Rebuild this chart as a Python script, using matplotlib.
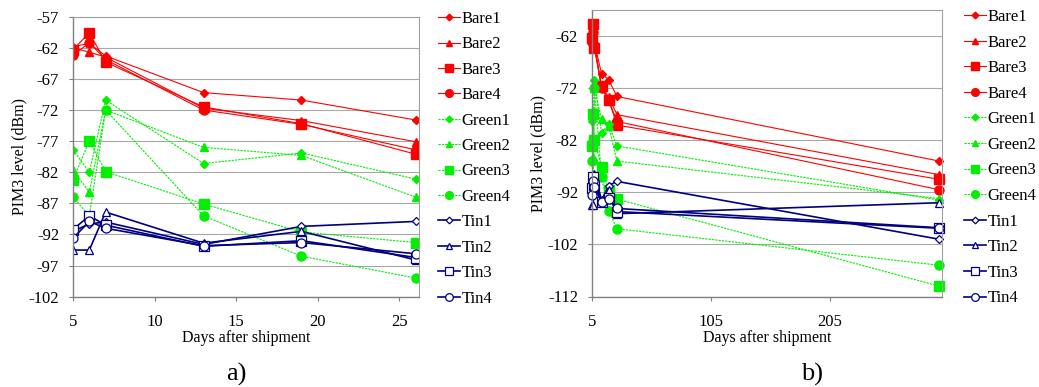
import matplotlib
matplotlib.use("Agg")
import matplotlib.pyplot as plt
from matplotlib.lines import Line2D

plt.rcParams['font.family'] = ['Liberation Serif', 'DejaVu Serif']
plt.rcParams['axes.unicode_minus'] = False

days = [5, 6, 7, 13, 19, 26, 297]

bare1 = [-61.8, -61.3, -63.3, -69.2, -70.4, -73.6, -86.0]
bare2 = [-62.0, -62.7, -63.5, -71.7, -73.7, -77.1, -88.6]
bare3 = [-62.3, -59.6, -64.3, -71.5, -74.2, -79.1, -89.5]
bare4 = [-63.2, -61.2, -63.9, -72.0, -74.3, -78.4, -91.5]
green1 = [-78.4, -82.0, -70.4, -80.6, -78.9, -83.1, -93.5]
green2 = [-81.6, -85.2, -72.0, -78.0, -79.3, -86.0, -93.2]
green3 = [-83.2, -77.0, -81.9, -87.1, -91.6, -93.3, -110.0]
green4 = [-86.0, -89.0, -72.0, -89.0, -95.5, -99.0, -106.0]
tin1 = [-91.5, -90.3, -90.0, -93.6, -90.7, -89.9, -101.0]
tin2 = [-94.5, -94.5, -88.4, -93.4, -91.5, -96.1, -94.0]
tin3 = [-91.2, -89.0, -90.5, -93.9, -93.0, -95.7, -98.9]
tin4 = [-92.6, -89.9, -91.0, -93.8, -93.3, -95.1, -98.8]

labels = ["Bare1", "Bare2", "Bare3", "Bare4", "Green1", "Green2", "Green3", "Green4",
          "Tin1", "Tin2", "Tin3", "Tin4"]
series = [bare1, bare2, bare3, bare4, green1, green2, green3, green4, tin1, tin2, tin3, tin4]

RED = "#FF0000"
GREEN = "#00F000"
NAVY = "#000080"
markers = ["D", "^", "s", "o"]
msizes = [4, 5.5, 6.5, 6.5]


def style(i):
    grp = i // 4
    m = markers[i % 4]
    ms = msizes[i % 4]
    if grp == 0:
        return dict(color=RED, lw=0.8, ls="-", marker=m, ms=ms, mfc=RED, mec=RED)
    if grp == 1:
        return dict(color=GREEN, lw=0.8, ls=(0, (2, 1)), marker=m, ms=ms, mfc=GREEN, mec=GREEN)
    return dict(color=NAVY, lw=1.2, ls="-", marker=m, ms=ms, mfc="white", mec=NAVY, mew=0.9)


fig = plt.figure(figsize=(10.39, 3.87), dpi=100)
W, H = 1039, 387
axA = fig.add_axes([73 / W, 1 - 296.7 / H, (419 - 73) / W, (296.7 - 16.7) / H])
axB = fig.add_axes([592 / W, 1 - 296.5 / H, (942 - 592) / W, (296.5 - 10) / H])


def setup(ax):
    for s in ["top", "right"]:
        ax.spines[s].set_color("#A0A0A0")
        ax.spines[s].set_linewidth(0.8)
    for s in ["left", "bottom"]:
        ax.spines[s].set_color("#808080")
        ax.spines[s].set_linewidth(1.0)
    ax.grid(axis="y", color="#A8A8A8", lw=0.8)
    ax.set_axisbelow(True)
    ax.tick_params(axis="both", direction="out", length=3, color="#808080",
                   labelsize=12)
    ax.tick_params(axis="y", pad=7)
    ax.tick_params(axis="x", pad=9.5)
    ax.set_ylabel("PIM3 level (dBm)", fontsize=11.5, labelpad=1)
    ax.set_xlabel("Days after shipment", fontsize=11.5, labelpad=0)


# Left chart
for i, (lab, ys) in enumerate(zip(labels, series)):
    axA.plot(days[:6], ys[:6], label=lab, **style(i))
axA.set_xlim(5, 26.2)
axA.set_ylim(-102, -57)
axA.set_xticks([5, 10, 15, 20, 25])
axA.set_yticks(list(range(-57, -103, -5)))
setup(axA)

# Right chart
for i, (lab, ys) in enumerate(zip(labels, series)):
    axB.plot(days, ys, label=lab, clip_on=False, **style(i))
axB.set_xlim(5, 299.5)
axB.set_ylim(-112, -57)
axB.set_xticks([5, 105, 205])
axB.set_yticks(list(range(-112, -61, 10)))
setup(axB)

handles = []
for i, lab in enumerate(labels):
    st = style(i)
    st["ms"] = st["ms"] * 0.85
    handles.append(Line2D([], [], **st))

legA = fig.legend(handles, labels, loc="upper left", bbox_to_anchor=(438 / W, 1 - 11 / H),
                  frameon=False, fontsize=12, handlelength=1.3, handletextpad=0.1,
                  labelspacing=0.565, borderaxespad=0, borderpad=0)
legB = fig.legend(handles, labels, loc="upper left", bbox_to_anchor=(964 / W, 1 - 9 / H),
                  frameon=False, fontsize=12, handlelength=1.3, handletextpad=0.1,
                  labelspacing=0.575, borderaxespad=0, borderpad=0)

fig.text(236 / W, 1 - 374 / H, "a)", fontsize=19, ha="center", va="center")
fig.text(812 / W, 1 - 374 / H, "b)", fontsize=19, ha="center", va="center")

fig.savefig("out.png", dpi=100)
